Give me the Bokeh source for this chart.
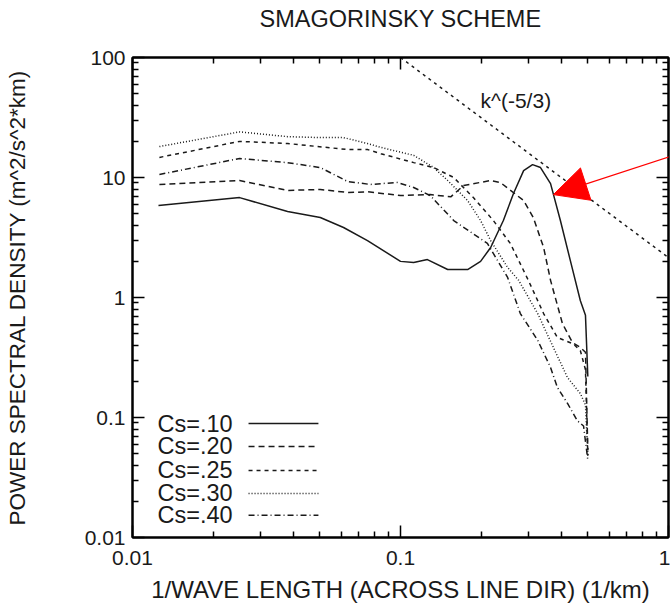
from bokeh.plotting import figure
from bokeh.models import (LogAxis, FixedTicker, Arrow, NormalHead, Label,
                          CustomJSTickFormatter, Range1d)
from bokeh.embed import file_html
from bokeh.resources import INLINE

# ---- data ----
cs10_x = [0.0125, 0.0251, 0.0379, 0.0502, 0.0613, 0.0753, 0.100, 0.112, 0.126, 0.150,
          0.178, 0.199, 0.217, 0.242, 0.264, 0.288, 0.311, 0.333, 0.363, 0.395,
          0.431, 0.469, 0.490, 0.500]
cs10_y = [5.85, 6.8, 5.2, 4.64, 3.83, 2.98, 2.0, 1.96, 2.07, 1.71,
          1.71, 2.0, 2.61, 4.38, 7.36, 11.4, 12.8, 12.1, 8.9, 4.38,
          2.0, 0.94, 0.71, 0.22]

cs20_x = [0.0126, 0.0251, 0.0379, 0.0502, 0.0635, 0.0753, 0.100, 0.129, 0.154, 0.172,
          0.217, 0.236, 0.288, 0.313, 0.342, 0.363, 0.402, 0.438, 0.469, 0.490, 0.500]
cs20_y = [8.75, 9.44, 7.8, 7.95, 7.5, 7.6, 7.08, 7.2, 6.9, 8.58,
          9.44, 9.08, 6.43, 4.64, 2.61, 1.39, 0.607, 0.422, 0.383, 0.35, 0.053]

cs25_x = [0.0126, 0.0251, 0.0379, 0.0635, 0.0753, 0.0845, 0.112, 0.133, 0.158, 0.187,
          0.222, 0.257, 0.300, 0.342, 0.385, 0.442, 0.469, 0.490, 0.500]
cs25_y = [14.7, 20.0, 19.2, 17.1, 17.1, 15.8, 13.3, 12.1, 10.0, 6.8,
          4.38, 2.82, 1.39, 0.735, 0.464, 0.41, 0.36, 0.25, 0.048]

cs30_x = [0.0126, 0.0251, 0.0379, 0.0502, 0.0613, 0.0753, 0.0845, 0.112, 0.133, 0.150,
          0.178, 0.199, 0.217, 0.251, 0.276, 0.325, 0.372, 0.420, 0.469, 0.490, 0.500]
cs30_y = [18.1, 24.0, 21.9, 21.5, 21.5, 19.2, 17.8, 15.3, 12.1, 9.44,
          6.43, 4.38, 2.98, 1.78, 1.39, 0.735, 0.383, 0.215, 0.158, 0.127, 0.048]

cs40_x = [0.0126, 0.0251, 0.0379, 0.0502, 0.0635, 0.0772, 0.0973, 0.112, 0.129, 0.158,
          0.211, 0.251, 0.280, 0.325, 0.363, 0.385, 0.420, 0.457, 0.482, 0.500]
cs40_y = [10.6, 14.4, 13.3, 12.1, 9.26, 8.75, 9.1, 8.25, 7.08, 4.38,
          2.82, 1.47, 0.735, 0.44, 0.261, 0.178, 0.131, 0.094, 0.085, 0.044]

ref_x = [0.1, 1.0]            # k^(-5/3) reference line end points
ref_y = [100.0, 2.15]

title_text = "SMAGORINSKY SCHEME"
series_labels = ["Cs=.10", "Cs=.20", "Cs=.25", "Cs=.30", "Cs=.40"]
x_ticks = [0.01, 0.1, 1]
y_ticks = [0.01, 0.1, 1, 10, 100]

# ---- styling / layout ----
FONT = "Liberation Sans"
INK = "#1a1a1a"
dashes = ["solid", "6 4", "4 4", "1 2", "6 3 1 3"]

x_minor = [m * d for d in [0.01, 0.1] for m in range(2, 10)]
y_minor = [m * d for d in [0.01, 0.1, 1, 10] for m in range(2, 10)]

p = figure(width=670, height=608, x_axis_type="log", y_axis_type="log",
           x_range=Range1d(0.01, 1), y_range=Range1d(0.01, 100),
           output_backend="svg", toolbar_location=None,
           min_border_left=132, min_border_right=2, min_border_top=57,
           min_border_bottom=71)
p.xgrid.visible = False
p.ygrid.visible = False
p.outline_line_color = "black"
p.outline_line_width = 2

# trailing empty line lifts the title higher above the frame
p.title.text = title_text + "\n"
p.title.align = "center"
p.title.text_font = FONT
p.title.text_font_size = "23.5px"
p.title.text_font_style = "normal"
p.title.text_color = INK
p.title.text_line_height = 1.0
p.title.standoff = 0

fmt = CustomJSTickFormatter(code="return String(tick);")
blank = CustomJSTickFormatter(code="return '';")

def style_axis(ax, ticks, minor, formatter):
    ax.ticker = FixedTicker(ticks=ticks, minor_ticks=minor)
    ax.formatter = formatter
    ax.major_tick_in = 12
    ax.major_tick_out = 0
    ax.minor_tick_in = 6
    ax.minor_tick_out = 0
    ax.axis_line_width = 2
    ax.axis_line_color = "black"
    ax.major_tick_line_width = 1.5
    ax.minor_tick_line_width = 1.5
    ax.major_tick_line_color = "black"
    ax.minor_tick_line_color = "black"
    ax.major_label_text_font = FONT
    ax.major_label_text_font_size = "21px"
    ax.major_label_text_color = INK
    ax.axis_label_text_font = FONT
    ax.axis_label_text_font_style = "normal"
    ax.axis_label_text_color = INK

xa = p.xaxis[0]
ya = p.yaxis[0]
style_axis(xa, x_ticks, x_minor, fmt)
style_axis(ya, y_ticks, y_minor, fmt)
xa.major_label_standoff = 13
ya.major_label_standoff = 7
xa.axis_label = "1/WAVE LENGTH (ACROSS LINE DIR) (1/km)"
xa.axis_label_text_font_size = "24px"
xa.axis_label_standoff = 8
ya.axis_label = "POWER SPECTRAL DENSITY (m^2/s^2*km)"
ya.axis_label_text_font_size = "22.5px"
ya.axis_label_standoff = 52

top = LogAxis()
style_axis(top, x_ticks, x_minor, blank)
top.major_label_standoff = 0
p.add_layout(top, "above")
right = LogAxis()
style_axis(right, y_ticks, y_minor, blank)
right.major_label_standoff = 0
p.add_layout(right, "right")

all_x = [cs10_x, cs20_x, cs25_x, cs30_x, cs40_x]
all_y = [cs10_y, cs20_y, cs25_y, cs30_y, cs40_y]
for xs, ys, d in zip(all_x, all_y, dashes):
    p.line(xs, ys, line_color=INK, line_width=1.5, line_dash=d)

# reference slope line and its label
p.line(ref_x, ref_y, line_color=INK, line_width=1.5, line_dash="3 4")
p.add_layout(Label(x=0.199, y=43.8, text="k^(-5/3)", text_font=FONT,
                   text_font_size="21px", text_color=INK,
                   text_baseline="middle", text_align="left"))

# legend (text left, line sample right)
leg_text_x = 0.0124
leg_line_x = [0.0271, 0.0494]
leg_rows_y = [0.089, 0.0574, 0.0362, 0.0233, 0.0153]
for lab, yy, d in zip(series_labels, leg_rows_y, dashes):
    p.add_layout(Label(x=leg_text_x, y=yy, text=lab, text_font=FONT,
                       text_font_size="23.5px", text_color=INK,
                       text_baseline="middle", text_align="left"))
    p.line(leg_line_x, [yy, yy], line_color=INK, line_width=1.5, line_dash=d)

# red arrow
p.add_layout(Arrow(end=NormalHead(size=34, fill_color="red", line_color="red"),
                   x_start=1.02, y_start=15.0, x_end=0.372, y_end=7.2,
                   line_color="red", line_width=1.2))

open("out.html", "w").write(file_html(p, INLINE))
